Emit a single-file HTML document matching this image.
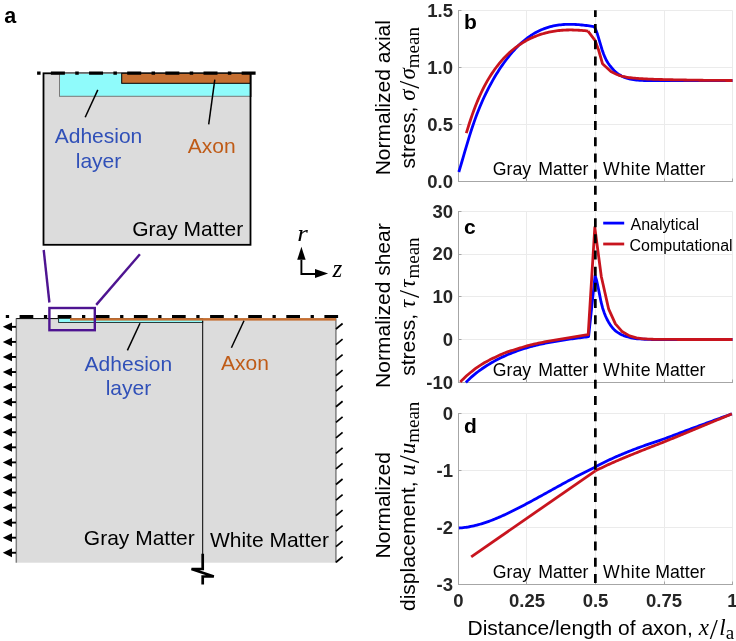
<!DOCTYPE html>
<html><head><meta charset="utf-8"><style>
html,body{margin:0;padding:0;background:#fff;}
svg{display:block;font-family:"Liberation Sans",sans-serif;will-change:transform}
</style></head><body>
<svg width="736" height="641" viewBox="0 0 736 641" style="font-family:&quot;Liberation Sans&quot;,sans-serif">
<text x="4.3" y="22.6" style="font-weight:bold;font-size:21.5px">a</text>
<rect x="43.5" y="73.3" width="207" height="171.5" fill="#dcdcdc" stroke="#000" stroke-width="1.8"/>
<rect x="59.5" y="73.3" width="191" height="23" fill="#8ffbfb" stroke="#7a7a7a" stroke-width="1"/>
<rect x="121.7" y="73.3" width="128.8" height="10" fill="#c56e30" stroke="#000" stroke-width="1"/>
<line x1="250.5" y1="73.3" x2="250.5" y2="97" stroke="#000" stroke-width="1.8"/>
<line x1="37.1" y1="73.1" x2="255.6" y2="73.1" stroke="#000" stroke-width="3.4" stroke-dasharray="3.5 10.3 14 10.35"/>
<line x1="97.8" y1="89.9" x2="85.2" y2="117.2" stroke="#000" stroke-width="1.5"/>
<line x1="214.8" y1="79.6" x2="208.7" y2="124.3" stroke="#000" stroke-width="1.5"/>
<text x="98.5" y="143.2" text-anchor="middle" fill="#3050b8" style="font-size:21px">Adhesion</text>
<text x="98.5" y="167.6" text-anchor="middle" fill="#3050b8" style="font-size:21px">layer</text>
<text x="211.7" y="153" text-anchor="middle" fill="#bf5b17" style="font-size:21px">Axon</text>
<text x="187.7" y="235.6" text-anchor="middle" style="font-size:21px">Gray Matter</text>
<line x1="43.7" y1="250" x2="49.4" y2="302.5" stroke="#4e1491" stroke-width="2.4"/>
<line x1="139.9" y1="254.3" x2="96.2" y2="304.9" stroke="#4e1491" stroke-width="2.4"/>
<rect x="16.3" y="318.3" width="319.6" height="244.4" fill="#dcdcdc"/>
<line x1="16.3" y1="318.3" x2="16.3" y2="562.7" stroke="#7f7f7f" stroke-width="1.5"/>
<line x1="335.9" y1="318.3" x2="335.9" y2="562.7" stroke="#7f7f7f" stroke-width="1.5"/>
<line x1="16.3" y1="318.6" x2="59" y2="318.6" stroke="#000" stroke-width="1"/>
<rect x="58.6" y="318.5" width="144.1" height="4" fill="#8ffbfb" stroke="#1a2a2a" stroke-width="0.9"/>
<rect x="70" y="318.1" width="266" height="2.5" fill="#c56e30"/>
<line x1="202.7" y1="321" x2="202.7" y2="554" stroke="#000" stroke-width="1"/>
<path d="M202.7 553.7 V569 H191.5 L213.8 576.5 H202.7 V584.5" fill="none" stroke="#000" stroke-width="2.7" stroke-linejoin="miter"/>
<line x1="5.8" y1="316.6" x2="338.2" y2="316.6" stroke="#000" stroke-width="3" stroke-dasharray="3.3 10.5 13.7 10.6" />
<line x1="140" y1="323.3" x2="127.4" y2="350.4" stroke="#000" stroke-width="1.5"/>
<line x1="244" y1="320.8" x2="231.4" y2="347.7" stroke="#000" stroke-width="1.5"/>
<text x="128.4" y="370.8" text-anchor="middle" fill="#3050b8" style="font-size:21px">Adhesion</text>
<text x="128.4" y="394.7" text-anchor="middle" fill="#3050b8" style="font-size:21px">layer</text>
<text x="245" y="370.2" text-anchor="middle" fill="#bf5b17" style="font-size:21px">Axon</text>
<text x="139.3" y="545" text-anchor="middle" style="font-size:21px">Gray Matter</text>
<text x="269.4" y="547.2" text-anchor="middle" style="font-size:21px">White Matter</text>
<rect x="49.4" y="308" width="45.4" height="22.2" fill="none" stroke="#4e1491" stroke-width="2.4"/>
<line x1="10" y1="326.85" x2="16" y2="326.85" stroke="#000" stroke-width="1.9"/>
<path d="M2.8 326.85 L12 322.45 L12 331.25 Z" fill="#000"/>
<line x1="10" y1="341.91" x2="16" y2="341.91" stroke="#000" stroke-width="1.9"/>
<path d="M2.8 341.91 L12 337.51 L12 346.31 Z" fill="#000"/>
<line x1="10" y1="356.97" x2="16" y2="356.97" stroke="#000" stroke-width="1.9"/>
<path d="M2.8 356.97 L12 352.57 L12 361.37 Z" fill="#000"/>
<line x1="10" y1="372.03" x2="16" y2="372.03" stroke="#000" stroke-width="1.9"/>
<path d="M2.8 372.03 L12 367.63 L12 376.43 Z" fill="#000"/>
<line x1="10" y1="387.09" x2="16" y2="387.09" stroke="#000" stroke-width="1.9"/>
<path d="M2.8 387.09 L12 382.69 L12 391.49 Z" fill="#000"/>
<line x1="10" y1="402.15" x2="16" y2="402.15" stroke="#000" stroke-width="1.9"/>
<path d="M2.8 402.15 L12 397.75 L12 406.55 Z" fill="#000"/>
<line x1="10" y1="417.21" x2="16" y2="417.21" stroke="#000" stroke-width="1.9"/>
<path d="M2.8 417.21 L12 412.81 L12 421.61 Z" fill="#000"/>
<line x1="10" y1="432.27" x2="16" y2="432.27" stroke="#000" stroke-width="1.9"/>
<path d="M2.8 432.27 L12 427.87 L12 436.67 Z" fill="#000"/>
<line x1="10" y1="447.33" x2="16" y2="447.33" stroke="#000" stroke-width="1.9"/>
<path d="M2.8 447.33 L12 442.93 L12 451.73 Z" fill="#000"/>
<line x1="10" y1="462.39" x2="16" y2="462.39" stroke="#000" stroke-width="1.9"/>
<path d="M2.8 462.39 L12 457.99 L12 466.79 Z" fill="#000"/>
<line x1="10" y1="477.45" x2="16" y2="477.45" stroke="#000" stroke-width="1.9"/>
<path d="M2.8 477.45 L12 473.05 L12 481.85 Z" fill="#000"/>
<line x1="10" y1="492.51" x2="16" y2="492.51" stroke="#000" stroke-width="1.9"/>
<path d="M2.8 492.51 L12 488.11 L12 496.91 Z" fill="#000"/>
<line x1="10" y1="507.57" x2="16" y2="507.57" stroke="#000" stroke-width="1.9"/>
<path d="M2.8 507.57 L12 503.17 L12 511.97 Z" fill="#000"/>
<line x1="10" y1="522.63" x2="16" y2="522.63" stroke="#000" stroke-width="1.9"/>
<path d="M2.8 522.63 L12 518.23 L12 527.03 Z" fill="#000"/>
<line x1="10" y1="537.69" x2="16" y2="537.69" stroke="#000" stroke-width="1.9"/>
<path d="M2.8 537.69 L12 533.29 L12 542.09 Z" fill="#000"/>
<line x1="10" y1="552.75" x2="16" y2="552.75" stroke="#000" stroke-width="1.9"/>
<path d="M2.8 552.75 L12 548.35 L12 557.15 Z" fill="#000"/>
<line x1="336" y1="329" x2="342.6" y2="323.5" stroke="#000" stroke-width="1.7"/>
<line x1="336" y1="344.55" x2="342.6" y2="339.05" stroke="#000" stroke-width="1.7"/>
<line x1="336" y1="360.1" x2="342.6" y2="354.6" stroke="#000" stroke-width="1.7"/>
<line x1="336" y1="375.65" x2="342.6" y2="370.15" stroke="#000" stroke-width="1.7"/>
<line x1="336" y1="391.2" x2="342.6" y2="385.7" stroke="#000" stroke-width="1.7"/>
<line x1="336" y1="406.75" x2="342.6" y2="401.25" stroke="#000" stroke-width="1.7"/>
<line x1="336" y1="422.3" x2="342.6" y2="416.8" stroke="#000" stroke-width="1.7"/>
<line x1="336" y1="437.85" x2="342.6" y2="432.35" stroke="#000" stroke-width="1.7"/>
<line x1="336" y1="453.4" x2="342.6" y2="447.9" stroke="#000" stroke-width="1.7"/>
<line x1="336" y1="468.95" x2="342.6" y2="463.45" stroke="#000" stroke-width="1.7"/>
<line x1="336" y1="484.5" x2="342.6" y2="479" stroke="#000" stroke-width="1.7"/>
<line x1="336" y1="500.05" x2="342.6" y2="494.55" stroke="#000" stroke-width="1.7"/>
<line x1="336" y1="515.6" x2="342.6" y2="510.1" stroke="#000" stroke-width="1.7"/>
<line x1="336" y1="531.15" x2="342.6" y2="525.65" stroke="#000" stroke-width="1.7"/>
<line x1="336" y1="546.7" x2="342.6" y2="541.2" stroke="#000" stroke-width="1.7"/>
<line x1="336" y1="562.25" x2="342.6" y2="556.75" stroke="#000" stroke-width="1.7"/>
<path d="M301.4 259.8 V274 H315" fill="none" stroke="#000" stroke-width="1.9"/>
<path d="M301.4 246.7 L297.2 259.8 L305.6 259.8 Z" fill="#000"/>
<path d="M328.1 273.5 L315 269 L315 278 Z" fill="#000"/>
<text transform="translate(297.2 241) scale(1.18 1)" style="font-family:&quot;Liberation Serif&quot;,serif;font-style:italic;font-size:23px">r</text>
<text x="332.5" y="276.7" style="font-family:&quot;Liberation Serif&quot;,serif;font-style:italic;font-size:25px">z</text>
<line x1="458.5" y1="10.5" x2="458.5" y2="181.5" stroke="#ebebeb" stroke-width="1"/>
<line x1="526.5" y1="10.5" x2="526.5" y2="181.5" stroke="#ebebeb" stroke-width="1"/>
<line x1="595.5" y1="10.5" x2="595.5" y2="181.5" stroke="#ebebeb" stroke-width="1"/>
<line x1="664.5" y1="10.5" x2="664.5" y2="181.5" stroke="#ebebeb" stroke-width="1"/>
<line x1="732.5" y1="10.5" x2="732.5" y2="181.5" stroke="#ebebeb" stroke-width="1"/>
<line x1="458.5" y1="181.5" x2="732.5" y2="181.5" stroke="#ebebeb" stroke-width="1"/>
<line x1="458.5" y1="124.5" x2="732.5" y2="124.5" stroke="#ebebeb" stroke-width="1"/>
<line x1="458.5" y1="67.5" x2="732.5" y2="67.5" stroke="#ebebeb" stroke-width="1"/>
<line x1="458.5" y1="10.5" x2="732.5" y2="10.5" stroke="#ebebeb" stroke-width="1"/>
<line x1="458.5" y1="10" x2="458.5" y2="182" stroke="#a6a6a6" stroke-width="1"/>
<line x1="458.5" y1="181.5" x2="733" y2="181.5" stroke="#a6a6a6" stroke-width="1"/>
<line x1="458.5" y1="181.5" x2="461.5" y2="181.5" stroke="#a6a6a6" stroke-width="1"/>
<line x1="458.5" y1="124.5" x2="461.5" y2="124.5" stroke="#a6a6a6" stroke-width="1"/>
<line x1="458.5" y1="67.5" x2="461.5" y2="67.5" stroke="#a6a6a6" stroke-width="1"/>
<line x1="458.5" y1="10.5" x2="461.5" y2="10.5" stroke="#a6a6a6" stroke-width="1"/>
<line x1="458.5" y1="181.5" x2="458.5" y2="178.5" stroke="#a6a6a6" stroke-width="1"/>
<line x1="526.5" y1="181.5" x2="526.5" y2="178.5" stroke="#a6a6a6" stroke-width="1"/>
<line x1="595.5" y1="181.5" x2="595.5" y2="178.5" stroke="#a6a6a6" stroke-width="1"/>
<line x1="664.5" y1="181.5" x2="664.5" y2="178.5" stroke="#a6a6a6" stroke-width="1"/>
<line x1="732.5" y1="181.5" x2="732.5" y2="178.5" stroke="#a6a6a6" stroke-width="1"/>
<text x="453" y="187.5" text-anchor="end" style="font-weight:bold;font-size:18.5px;fill:#262626">0.0</text>
<text x="453" y="130.6" text-anchor="end" style="font-weight:bold;font-size:18.5px;fill:#262626">0.5</text>
<text x="453" y="73.7" text-anchor="end" style="font-weight:bold;font-size:18.5px;fill:#262626">1.0</text>
<text x="453" y="16.8" text-anchor="end" style="font-weight:bold;font-size:18.5px;fill:#262626">1.5</text>
<text x="464" y="28.5" style="font-weight:bold;font-size:21px">b</text>
<text x="492.8" y="174.6" style="font-size:17.7px">Gray</text>
<text x="538.3" y="174.6" style="font-size:17.7px">Matter</text>
<text x="603.1" y="174.6" style="font-size:17.7px;letter-spacing:0.6px">White</text>
<text x="655.3" y="174.6" style="font-size:17.7px">Matter</text>
<line x1="458.5" y1="211.5" x2="458.5" y2="382.5" stroke="#ebebeb" stroke-width="1"/>
<line x1="526.5" y1="211.5" x2="526.5" y2="382.5" stroke="#ebebeb" stroke-width="1"/>
<line x1="595.5" y1="211.5" x2="595.5" y2="382.5" stroke="#ebebeb" stroke-width="1"/>
<line x1="664.5" y1="211.5" x2="664.5" y2="382.5" stroke="#ebebeb" stroke-width="1"/>
<line x1="732.5" y1="211.5" x2="732.5" y2="382.5" stroke="#ebebeb" stroke-width="1"/>
<line x1="458.5" y1="382.5" x2="732.5" y2="382.5" stroke="#ebebeb" stroke-width="1"/>
<line x1="458.5" y1="339.5" x2="732.5" y2="339.5" stroke="#ebebeb" stroke-width="1"/>
<line x1="458.5" y1="296.5" x2="732.5" y2="296.5" stroke="#ebebeb" stroke-width="1"/>
<line x1="458.5" y1="254.5" x2="732.5" y2="254.5" stroke="#ebebeb" stroke-width="1"/>
<line x1="458.5" y1="211.5" x2="732.5" y2="211.5" stroke="#ebebeb" stroke-width="1"/>
<line x1="458.5" y1="211" x2="458.5" y2="383" stroke="#a6a6a6" stroke-width="1"/>
<line x1="458.5" y1="382.5" x2="733" y2="382.5" stroke="#a6a6a6" stroke-width="1"/>
<line x1="458.5" y1="382.5" x2="461.5" y2="382.5" stroke="#a6a6a6" stroke-width="1"/>
<line x1="458.5" y1="339.5" x2="461.5" y2="339.5" stroke="#a6a6a6" stroke-width="1"/>
<line x1="458.5" y1="296.5" x2="461.5" y2="296.5" stroke="#a6a6a6" stroke-width="1"/>
<line x1="458.5" y1="254.5" x2="461.5" y2="254.5" stroke="#a6a6a6" stroke-width="1"/>
<line x1="458.5" y1="211.5" x2="461.5" y2="211.5" stroke="#a6a6a6" stroke-width="1"/>
<line x1="458.5" y1="382.5" x2="458.5" y2="379.5" stroke="#a6a6a6" stroke-width="1"/>
<line x1="526.5" y1="382.5" x2="526.5" y2="379.5" stroke="#a6a6a6" stroke-width="1"/>
<line x1="595.5" y1="382.5" x2="595.5" y2="379.5" stroke="#a6a6a6" stroke-width="1"/>
<line x1="664.5" y1="382.5" x2="664.5" y2="379.5" stroke="#a6a6a6" stroke-width="1"/>
<line x1="732.5" y1="382.5" x2="732.5" y2="379.5" stroke="#a6a6a6" stroke-width="1"/>
<text x="453" y="388.5" text-anchor="end" style="font-weight:bold;font-size:18.5px;fill:#262626">-10</text>
<text x="453" y="345.82" text-anchor="end" style="font-weight:bold;font-size:18.5px;fill:#262626">0</text>
<text x="453" y="303.15" text-anchor="end" style="font-weight:bold;font-size:18.5px;fill:#262626">10</text>
<text x="453" y="260.47" text-anchor="end" style="font-weight:bold;font-size:18.5px;fill:#262626">20</text>
<text x="453" y="217.8" text-anchor="end" style="font-weight:bold;font-size:18.5px;fill:#262626">30</text>
<text x="464" y="234.3" style="font-weight:bold;font-size:21px">c</text>
<text x="492.8" y="375.6" style="font-size:17.7px">Gray</text>
<text x="538.3" y="375.6" style="font-size:17.7px">Matter</text>
<text x="603.1" y="375.6" style="font-size:17.7px;letter-spacing:0.6px">White</text>
<text x="655.3" y="375.6" style="font-size:17.7px">Matter</text>
<line x1="458.5" y1="413.5" x2="458.5" y2="584.5" stroke="#ebebeb" stroke-width="1"/>
<line x1="526.5" y1="413.5" x2="526.5" y2="584.5" stroke="#ebebeb" stroke-width="1"/>
<line x1="595.5" y1="413.5" x2="595.5" y2="584.5" stroke="#ebebeb" stroke-width="1"/>
<line x1="664.5" y1="413.5" x2="664.5" y2="584.5" stroke="#ebebeb" stroke-width="1"/>
<line x1="732.5" y1="413.5" x2="732.5" y2="584.5" stroke="#ebebeb" stroke-width="1"/>
<line x1="458.5" y1="584.5" x2="732.5" y2="584.5" stroke="#ebebeb" stroke-width="1"/>
<line x1="458.5" y1="527.5" x2="732.5" y2="527.5" stroke="#ebebeb" stroke-width="1"/>
<line x1="458.5" y1="470.5" x2="732.5" y2="470.5" stroke="#ebebeb" stroke-width="1"/>
<line x1="458.5" y1="413.5" x2="732.5" y2="413.5" stroke="#ebebeb" stroke-width="1"/>
<line x1="458.5" y1="413" x2="458.5" y2="585" stroke="#a6a6a6" stroke-width="1"/>
<line x1="458.5" y1="584.5" x2="733" y2="584.5" stroke="#a6a6a6" stroke-width="1"/>
<line x1="458.5" y1="584.5" x2="461.5" y2="584.5" stroke="#a6a6a6" stroke-width="1"/>
<line x1="458.5" y1="527.5" x2="461.5" y2="527.5" stroke="#a6a6a6" stroke-width="1"/>
<line x1="458.5" y1="470.5" x2="461.5" y2="470.5" stroke="#a6a6a6" stroke-width="1"/>
<line x1="458.5" y1="413.5" x2="461.5" y2="413.5" stroke="#a6a6a6" stroke-width="1"/>
<line x1="458.5" y1="584.5" x2="458.5" y2="581.5" stroke="#a6a6a6" stroke-width="1"/>
<line x1="526.5" y1="584.5" x2="526.5" y2="581.5" stroke="#a6a6a6" stroke-width="1"/>
<line x1="595.5" y1="584.5" x2="595.5" y2="581.5" stroke="#a6a6a6" stroke-width="1"/>
<line x1="664.5" y1="584.5" x2="664.5" y2="581.5" stroke="#a6a6a6" stroke-width="1"/>
<line x1="732.5" y1="584.5" x2="732.5" y2="581.5" stroke="#a6a6a6" stroke-width="1"/>
<text x="453" y="591.1" text-anchor="end" style="font-weight:bold;font-size:18.5px;fill:#262626">-3</text>
<text x="453" y="534.1" text-anchor="end" style="font-weight:bold;font-size:18.5px;fill:#262626">-2</text>
<text x="453" y="477.1" text-anchor="end" style="font-weight:bold;font-size:18.5px;fill:#262626">-1</text>
<text x="453" y="420.1" text-anchor="end" style="font-weight:bold;font-size:18.5px;fill:#262626">0</text>
<text x="464" y="433.3" style="font-weight:bold;font-size:21px">d</text>
<text x="492.8" y="578.2" style="font-size:17.7px">Gray</text>
<text x="538.3" y="578.2" style="font-size:17.7px">Matter</text>
<text x="603.1" y="578.2" style="font-size:17.7px;letter-spacing:0.6px">White</text>
<text x="655.3" y="578.2" style="font-size:17.7px">Matter</text>
<text x="458.5" y="607.1" text-anchor="middle" style="font-weight:bold;font-size:18.5px;fill:#262626">0</text>
<text x="527" y="607.1" text-anchor="middle" style="font-weight:bold;font-size:18.5px;fill:#262626">0.25</text>
<text x="595.5" y="607.1" text-anchor="middle" style="font-weight:bold;font-size:18.5px;fill:#262626">0.5</text>
<text x="664" y="607.1" text-anchor="middle" style="font-weight:bold;font-size:18.5px;fill:#262626">0.75</text>
<text x="732.5" y="607.1" text-anchor="middle" style="font-weight:bold;font-size:18.5px;fill:#262626">1</text>
<path d="M458.8 172 L460.3 167.12 L461.8 161.99 L463.3 156.84 L464.8 151.72 L466.3 146.63 L467.8 141.61 L469.3 136.7 L470.8 131.92 L472.3 127.3 L473.8 122.87 L475.3 118.63 L476.8 114.58 L478.3 110.71 L479.8 107 L481.3 103.45 L482.8 100.04 L484.3 96.77 L485.8 93.61 L487.3 90.57 L488.8 87.63 L490.3 84.79 L491.8 82.05 L493.3 79.39 L494.8 76.82 L496.3 74.34 L497.8 71.93 L499.3 69.6 L500.8 67.34 L502.3 65.15 L503.8 63.03 L505.3 60.97 L506.8 58.98 L508.3 57.05 L509.8 55.19 L511.3 53.39 L512.8 51.65 L514.3 49.98 L515.8 48.37 L517.3 46.82 L518.8 45.33 L520.3 43.9 L521.8 42.54 L523.3 41.23 L524.8 39.98 L526.3 38.79 L527.8 37.66 L529.3 36.58 L530.8 35.55 L532.3 34.58 L533.8 33.67 L535.3 32.8 L536.8 31.98 L538.3 31.22 L539.8 30.5 L541.3 29.82 L542.8 29.2 L544.3 28.61 L545.8 28.07 L547.3 27.57 L548.8 27.11 L550.3 26.7 L551.8 26.32 L553.3 25.97 L554.8 25.67 L556.3 25.4 L557.8 25.16 L559.3 24.95 L560.8 24.78 L562.3 24.63 L563.8 24.52 L565.3 24.43 L566.8 24.37 L568.3 24.34 L569.8 24.33 L571.3 24.34 L572.8 24.38 L574.3 24.43 L575.8 24.51 L577.3 24.61 L578.8 24.72 L580.3 24.85 L581.8 24.99 L583.3 25.15 L584.8 25.32 L586.3 25.5 L587.8 25.69 L589.3 25.9 L590.8 26.11 L592.3 26.32 L593.8 26.55 L594.5 27" fill="none" stroke="#0000ff" stroke-width="2.8" stroke-linejoin="round"/>
<path d="M594.5 27 L596 30.28 L597.5 34.28 L599 39.28 L600.5 44.44 L602 49.51 L603.5 53.82 L605 57.47 L606.5 60.54 L608 63.02 L609.5 65.14 L611 67 L612.5 68.74 L614 70.38 L615.5 71.84 L617 73.06 L618.5 74.08 L620 75.03 L621.5 75.91 L623 76.69 L624.5 77.38 L626 77.94 L627.5 78.38 L629 78.76 L630.5 79.1 L632 79.42 L633.5 79.69 L635 79.91 L636.5 80.09 L638 80.2 L639.5 80.28 L641 80.35 L642.5 80.42 L644 80.48 L645.5 80.54 L647 80.59 L648.5 80.63 L650 80.66 L651.5 80.68 L653 80.7 L654.5 80.7 L656 80.7 L657.5 80.7 L659 80.7 L660.5 80.7 L662 80.7 L663.5 80.7 L665 80.7 L666.5 80.7 L668 80.7 L669.5 80.7 L671 80.7 L672.5 80.7 L674 80.7 L675.5 80.7 L677 80.7 L678.5 80.7 L680 80.7 L681.5 80.7 L683 80.7 L684.5 80.7 L686 80.7 L687.5 80.7 L689 80.7 L690.5 80.69 L692 80.69 L693.5 80.69 L695 80.69 L696.5 80.69 L698 80.69 L699.5 80.68 L701 80.68 L702.5 80.68 L704 80.68 L705.5 80.67 L707 80.67 L708.5 80.67 L710 80.66 L711.5 80.66 L713 80.66 L714.5 80.65 L716 80.65 L717.5 80.64 L719 80.64 L720.5 80.64 L722 80.63 L723.5 80.63 L725 80.62 L726.5 80.62 L728 80.61 L729.5 80.61 L731 80.6 L732.5 80.6" fill="none" stroke="#0000ff" stroke-width="2.8" stroke-linejoin="round"/>
<path d="M466.3 133.1 L467.8 128.3 L469.3 123.53 L470.8 118.97 L472.3 114.62 L473.8 110.47 L475.3 106.51 L476.8 102.74 L478.3 99.15 L479.8 95.73 L481.3 92.48 L482.8 89.38 L484.3 86.43 L485.8 83.62 L487.3 80.94 L488.8 78.39 L490.3 75.96 L491.8 73.63 L493.3 71.41 L494.8 69.28 L496.3 67.24 L497.8 65.28 L499.3 63.41 L500.8 61.61 L502.3 59.88 L503.8 58.23 L505.3 56.65 L506.8 55.14 L508.3 53.69 L509.8 52.31 L511.3 50.99 L512.8 49.72 L514.3 48.52 L515.8 47.37 L517.3 46.27 L518.8 45.22 L520.3 44.21 L521.8 43.25 L523.3 42.34 L524.8 41.46 L526.3 40.62 L527.8 39.82 L529.3 39.06 L530.8 38.33 L532.3 37.64 L533.8 36.98 L535.3 36.36 L536.8 35.77 L538.3 35.21 L539.8 34.69 L541.3 34.2 L542.8 33.73 L544.3 33.3 L545.8 32.9 L547.3 32.53 L548.8 32.18 L550.3 31.87 L551.8 31.58 L553.3 31.31 L554.8 31.07 L556.3 30.86 L557.8 30.67 L559.3 30.51 L560.8 30.37 L562.3 30.25 L563.8 30.15 L565.3 30.07 L566.8 30.02 L568.3 29.98 L569.8 29.97 L571.3 29.97 L572.8 29.99 L574.3 30.03 L575.8 30.08 L577.3 30.15 L578.8 30.24 L580.3 30.34 L581.8 30.45 L583.3 30.58 L584.8 30.72 L586.3 30.87 L587.8 31.04 L588 31.1" fill="none" stroke="#c8141e" stroke-width="2.8" stroke-linejoin="round"/>
<path d="M588 31.1 L595 40.3 L598.6 50 L602.5 63.7 L610.9 71.5 L612.4 72.31 L613.9 73.08 L615.4 73.8 L616.9 74.47 L618.4 75.07 L619.9 75.59 L621.4 76.02 L622.9 76.39 L624.4 76.72 L625.9 77.02 L627.4 77.29 L628.9 77.54 L630.4 77.75 L631.9 77.93 L633.4 78.08 L634.9 78.22 L636.4 78.35 L637.9 78.47 L639.4 78.58 L640.9 78.68 L642.4 78.77 L643.9 78.86 L645.4 78.94 L646.9 79.01 L648.4 79.08 L649.9 79.14 L651.4 79.2 L652.9 79.25 L654.4 79.3 L655.9 79.35 L657.4 79.4 L658.9 79.44 L660.4 79.48 L661.9 79.52 L663.4 79.56 L664.9 79.59 L666.4 79.63 L667.9 79.66 L669.4 79.7 L670.9 79.73 L672.4 79.76 L673.9 79.79 L675.4 79.82 L676.9 79.84 L678.4 79.87 L679.9 79.9 L681.4 79.93 L682.9 79.95 L684.4 79.98 L685.9 80.01 L687.4 80.04 L688.9 80.06 L690.4 80.09 L691.9 80.11 L693.4 80.14 L694.9 80.16 L696.4 80.19 L697.9 80.21 L699.4 80.23 L700.9 80.25 L702.4 80.27 L703.9 80.29 L705.4 80.3 L706.9 80.32 L708.4 80.33 L709.9 80.35 L711.4 80.36 L712.9 80.38 L714.4 80.39 L715.9 80.4 L717.4 80.41 L718.9 80.43 L720.4 80.44 L721.9 80.45 L723.4 80.46 L724.9 80.47 L726.4 80.48 L727.9 80.48 L729.4 80.49 L730.9 80.5 L732.4 80.5 L732.5 80.5" fill="none" stroke="#c8141e" stroke-width="2.8" stroke-linejoin="round"/>
<path d="M465.9 382.4 L467.4 380.88 L468.9 379.41 L470.4 377.98 L471.9 376.62 L473.4 375.33 L474.9 374.1 L476.4 372.91 L477.9 371.75 L479.4 370.63 L480.9 369.55 L482.4 368.49 L483.9 367.47 L485.4 366.49 L486.9 365.53 L488.4 364.6 L489.9 363.7 L491.4 362.83 L492.9 361.98 L494.4 361.15 L495.9 360.34 L497.4 359.56 L498.9 358.8 L500.4 358.05 L501.9 357.32 L503.4 356.61 L504.9 355.91 L506.4 355.24 L507.9 354.58 L509.4 353.94 L510.9 353.33 L512.4 352.75 L513.9 352.17 L515.4 351.61 L516.9 351.06 L518.4 350.53 L519.9 350.01 L521.4 349.5 L522.9 349 L524.4 348.52 L525.9 348.06 L527.4 347.61 L528.9 347.18 L530.4 346.76 L531.9 346.36 L533.4 345.97 L534.9 345.59 L536.4 345.21 L537.9 344.85 L539.4 344.5 L540.9 344.16 L542.4 343.83 L543.9 343.51 L545.4 343.2 L546.9 342.9 L548.4 342.6 L549.9 342.32 L551.4 342.04 L552.9 341.77 L554.4 341.51 L555.9 341.25 L557.4 341 L558.9 340.76 L560.4 340.52 L561.9 340.29 L563.4 340.06 L564.9 339.83 L566.4 339.61 L567.9 339.39 L569.4 339.17 L570.9 338.96 L572.4 338.75 L573.9 338.54 L575.4 338.34 L576.9 338.14 L578.4 337.94 L579.9 337.74 L581.4 337.55 L582.9 337.37 L584.4 337.19 L585.9 337.01 L587.4 336.84 L588.6 336.7 L595.1 275.5 L596.6 280.38 L598.1 287.28 L599.6 294.64 L601.1 302.19 L602.6 307.95 L604.1 312.42 L605.6 316.24 L607.1 319.47 L608.6 322.18 L610.1 324.58 L611.6 326.73 L613.1 328.58 L614.6 330.11 L616.1 331.31 L617.6 332.38 L619.1 333.33 L620.6 334.18 L622.1 334.93 L623.6 335.57 L625.1 336.1 L626.6 336.57 L628.1 337 L629.6 337.41 L631.1 337.77 L632.6 338.1 L634.1 338.38 L635.6 338.6 L637.1 338.76 L638.6 338.87 L640.1 338.97 L641.6 339.06 L643.1 339.15 L644.6 339.23 L646.1 339.29 L647.6 339.36 L649.1 339.41 L650.6 339.45 L652.1 339.48 L653.6 339.49 L655.1 339.5 L656.6 339.5 L658.1 339.5 L659.6 339.5 L661.1 339.5 L662.6 339.5 L664.1 339.5 L665.6 339.5 L667.1 339.5 L668.6 339.5 L670.1 339.5 L671.6 339.5 L673.1 339.5 L674.6 339.5 L676.1 339.5 L677.6 339.5 L679.1 339.5 L680.6 339.5 L682.1 339.5 L683.6 339.5 L685.1 339.5 L686.6 339.5 L688.1 339.5 L689.6 339.5 L691.1 339.5 L692.6 339.5 L694.1 339.5 L695.6 339.5 L697.1 339.5 L698.6 339.5 L700.1 339.5 L701.6 339.5 L703.1 339.5 L704.6 339.5 L706.1 339.5 L707.6 339.5 L709.1 339.5 L710.6 339.5 L712.1 339.5 L713.6 339.5 L715.1 339.5 L716.6 339.5 L718.1 339.5 L719.6 339.5 L721.1 339.5 L722.6 339.5 L724.1 339.5 L725.6 339.5 L727.1 339.5 L728.6 339.5 L730.1 339.5 L731.6 339.5 L732.5 339.5" fill="none" stroke="#0000ff" stroke-width="2.8" stroke-linejoin="round"/>
<path d="M460.3 381.9 L461.8 380.38 L463.3 378.9 L464.8 377.46 L466.3 376.07 L467.8 374.74 L469.3 373.47 L470.8 372.24 L472.3 371.04 L473.8 369.87 L475.3 368.74 L476.8 367.64 L478.3 366.59 L479.8 365.58 L481.3 364.61 L482.8 363.69 L484.3 362.81 L485.8 361.97 L487.3 361.15 L488.8 360.37 L490.3 359.6 L491.8 358.86 L493.3 358.12 L494.8 357.4 L496.3 356.69 L497.8 355.98 L499.3 355.29 L500.8 354.61 L502.3 353.96 L503.8 353.32 L505.3 352.72 L506.8 352.15 L508.3 351.62 L509.8 351.14 L511.3 350.68 L512.8 350.24 L514.3 349.8 L515.8 349.36 L517.3 348.9 L518.8 348.43 L520.3 347.95 L521.8 347.47 L523.3 347 L524.8 346.53 L526.3 346.08 L527.8 345.66 L529.3 345.25 L530.8 344.88 L532.3 344.52 L533.8 344.17 L535.3 343.83 L536.8 343.51 L538.3 343.19 L539.8 342.88 L541.3 342.58 L542.8 342.28 L544.3 341.99 L545.8 341.7 L547.3 341.41 L548.8 341.13 L550.3 340.85 L551.8 340.58 L553.3 340.31 L554.8 340.05 L556.3 339.79 L557.8 339.54 L559.3 339.28 L560.8 339.03 L562.3 338.78 L563.8 338.53 L565.3 338.28 L566.8 338.03 L568.3 337.78 L569.8 337.54 L571.3 337.29 L572.8 337.04 L574.3 336.8 L575.8 336.56 L577.3 336.31 L578.8 336.07 L580.3 335.84 L581.8 335.6 L583.3 335.36 L584.8 335.13 L586.3 334.89 L587.8 334.66 L588.2 334.6 L594.8 227.5 L601.3 276.5 L608.7 309.2 L615.4 323.8 L622.4 331.8 L629.6 335.9 L636.5 337.9 L643.4 338.8 L644.9 338.88 L646.4 338.96 L647.9 339.04 L649.4 339.12 L650.9 339.19 L652.4 339.24 L653.9 339.28 L655.4 339.3 L656.9 339.32 L658.4 339.34 L659.9 339.35 L661.4 339.37 L662.9 339.38 L664.4 339.39 L665.9 339.41 L667.4 339.42 L668.9 339.43 L670.4 339.44 L671.9 339.45 L673.4 339.46 L674.9 339.46 L676.4 339.47 L677.9 339.48 L679.4 339.48 L680.9 339.49 L682.4 339.49 L683.9 339.49 L685.4 339.5 L686.9 339.5 L688.4 339.5 L689.9 339.5 L691.4 339.5 L692.9 339.5 L694.4 339.5 L695.9 339.5 L697.4 339.5 L698.9 339.5 L700.4 339.5 L701.9 339.5 L703.4 339.5 L704.9 339.5 L706.4 339.5 L707.9 339.5 L709.4 339.5 L710.9 339.5 L712.4 339.5 L713.9 339.5 L715.4 339.5 L716.9 339.5 L718.4 339.5 L719.9 339.5 L721.4 339.5 L722.9 339.5 L724.4 339.5 L725.9 339.5 L727.4 339.5 L728.9 339.5 L730.4 339.5 L731.9 339.5 L732.5 339.5" fill="none" stroke="#c8141e" stroke-width="2.8" stroke-linejoin="round"/>
<path d="M458.9 528 L460.4 527.91 L461.9 527.78 L463.4 527.63 L464.9 527.45 L466.4 527.25 L467.9 527.01 L469.4 526.75 L470.9 526.47 L472.4 526.16 L473.9 525.83 L475.4 525.47 L476.9 525.09 L478.4 524.69 L479.9 524.27 L481.4 523.83 L482.9 523.36 L484.4 522.88 L485.9 522.38 L487.4 521.86 L488.9 521.33 L490.4 520.77 L491.9 520.21 L493.4 519.62 L494.9 519.02 L496.4 518.41 L497.9 517.78 L499.4 517.14 L500.9 516.48 L502.4 515.81 L503.9 515.14 L505.4 514.45 L506.9 513.74 L508.4 513.03 L509.9 512.31 L511.4 511.58 L512.9 510.84 L514.4 510.09 L515.9 509.34 L517.4 508.57 L518.9 507.8 L520.4 507.03 L521.9 506.24 L523.4 505.45 L524.9 504.66 L526.4 503.86 L527.9 503.06 L529.4 502.25 L530.9 501.44 L532.4 500.62 L533.9 499.8 L535.4 498.98 L536.9 498.16 L538.4 497.33 L539.9 496.51 L541.4 495.68 L542.9 494.85 L544.4 494.02 L545.9 493.18 L547.4 492.35 L548.9 491.52 L550.4 490.69 L551.9 489.86 L553.4 489.03 L554.9 488.2 L556.4 487.37 L557.9 486.55 L559.4 485.72 L560.9 484.9 L562.4 484.08 L563.9 483.26 L565.4 482.45 L566.9 481.64 L568.4 480.83 L569.9 480.02 L571.4 479.22 L572.9 478.42 L574.4 477.62 L575.9 476.83 L577.4 476.04 L578.9 475.26 L580.4 474.47 L581.9 473.7 L583.4 472.92 L584.9 472.16 L586.4 471.39 L587.9 470.63 L589.4 469.88 L590.9 469.13 L592.4 468.38 L593.9 467.64 L595.4 466.9" fill="none" stroke="#0000ff" stroke-width="2.8" stroke-linejoin="round"/>
<path d="M595.4 466.9 L596.9 466.1 L598.4 465.31 L599.9 464.52 L601.4 463.75 L602.9 462.99 L604.4 462.25 L605.9 461.51 L607.4 460.78 L608.9 460.07 L610.4 459.36 L611.9 458.67 L613.4 457.99 L614.9 457.31 L616.4 456.65 L617.9 456 L619.4 455.35 L620.9 454.72 L622.4 454.09 L623.9 453.47 L625.4 452.86 L626.9 452.25 L628.4 451.65 L629.9 451.06 L631.4 450.47 L632.9 449.89 L634.4 449.31 L635.9 448.74 L637.4 448.17 L638.9 447.61 L640.4 447.05 L641.9 446.5 L643.4 445.97 L644.9 445.44 L646.4 444.91 L647.9 444.4 L649.4 443.88 L650.9 443.37 L652.4 442.87 L653.9 442.36 L655.4 441.85 L656.9 441.34 L658.4 440.83 L659.9 440.32 L661.4 439.8 L662.9 439.27 L664.4 438.74 L665.9 438.19 L667.4 437.65 L668.9 437.1 L670.4 436.55 L671.9 435.99 L673.4 435.43 L674.9 434.87 L676.4 434.3 L677.9 433.74 L679.4 433.17 L680.9 432.61 L682.4 432.04 L683.9 431.48 L685.4 430.91 L686.9 430.35 L688.4 429.79 L689.9 429.24 L691.4 428.68 L692.9 428.13 L694.4 427.58 L695.9 427.02 L697.4 426.47 L698.9 425.92 L700.4 425.36 L701.9 424.81 L703.4 424.26 L704.9 423.71 L706.4 423.16 L707.9 422.61 L709.4 422.06 L710.9 421.51 L712.4 420.96 L713.9 420.41 L715.4 419.86 L716.9 419.32 L718.4 418.77 L719.9 418.22 L721.4 417.68 L722.9 417.13 L724.4 416.58 L725.9 416.04 L727.4 415.49 L728.9 414.95 L730.4 414.41 L731.8 413.9" fill="none" stroke="#0000ff" stroke-width="2.8" stroke-linejoin="round"/>
<path d="M471.2 556.9 L595.4 470.8" fill="none" stroke="#c8141e" stroke-width="2.8" stroke-linejoin="round"/>
<path d="M595.4 470.8 L596.9 470.07 L598.4 469.34 L599.9 468.61 L601.4 467.89 L602.9 467.18 L604.4 466.47 L605.9 465.77 L607.4 465.08 L608.9 464.4 L610.4 463.72 L611.9 463.05 L613.4 462.39 L614.9 461.74 L616.4 461.09 L617.9 460.44 L619.4 459.8 L620.9 459.16 L622.4 458.53 L623.9 457.9 L625.4 457.27 L626.9 456.65 L628.4 456.03 L629.9 455.41 L631.4 454.8 L632.9 454.18 L634.4 453.57 L635.9 452.96 L637.4 452.35 L638.9 451.75 L640.4 451.14 L641.9 450.54 L643.4 449.94 L644.9 449.35 L646.4 448.76 L647.9 448.17 L649.4 447.59 L650.9 447.01 L652.4 446.43 L653.9 445.85 L655.4 445.27 L656.9 444.69 L658.4 444.11 L659.9 443.52 L661.4 442.93 L662.9 442.34 L664.4 441.74 L665.9 441.14 L667.4 440.53 L668.9 439.92 L670.4 439.31 L671.9 438.69 L673.4 438.08 L674.9 437.46 L676.4 436.84 L677.9 436.22 L679.4 435.59 L680.9 434.97 L682.4 434.35 L683.9 433.73 L685.4 433.1 L686.9 432.48 L688.4 431.86 L689.9 431.24 L691.4 430.62 L692.9 430 L694.4 429.38 L695.9 428.76 L697.4 428.14 L698.9 427.52 L700.4 426.9 L701.9 426.29 L703.4 425.66 L704.9 425.04 L706.4 424.42 L707.9 423.8 L709.4 423.18 L710.9 422.56 L712.4 421.94 L713.9 421.32 L715.4 420.7 L716.9 420.08 L718.4 419.46 L719.9 418.84 L721.4 418.21 L722.9 417.59 L724.4 416.97 L725.9 416.35 L727.4 415.73 L728.9 415.1 L730.4 414.48 L731.8 413.9" fill="none" stroke="#c8141e" stroke-width="2.8" stroke-linejoin="round"/>
<line x1="603.2" y1="223.1" x2="624.2" y2="223.1" stroke="#0000ff" stroke-width="2.8"/>
<line x1="603.2" y1="244" x2="624.2" y2="244" stroke="#c8141e" stroke-width="2.8"/>
<text x="630.5" y="229.8" style="font-size:16px">Analytical</text>
<text x="629.5" y="251.1" style="font-size:16px">Computational</text>
<line x1="595.35" y1="10.3" x2="595.35" y2="584" stroke="#000" stroke-width="2.7" stroke-dasharray="9 7.17" stroke-dashoffset="2.37"/>
<text transform="translate(389.8 97.7) rotate(-90)" text-anchor="middle" style="font-size:21px">Normalized axial</text>
<text transform="translate(414.8 97.75) rotate(-90)" text-anchor="middle" style="font-size:21px">stress, <tspan style="font-family:&quot;Liberation Serif&quot;,serif;font-style:italic;font-size:23px">σ</tspan><tspan dx="0.8" dy="4.5" style="font-family:&quot;Liberation Serif&quot;,serif;font-size:29px">/</tspan><tspan dx="1.0" dy="-4.5" style="font-family:&quot;Liberation Serif&quot;,serif;font-style:italic;font-size:23px">σ</tspan><tspan dx="0" dy="4" style="font-family:&quot;Liberation Serif&quot;,serif;font-size:19px">mean</tspan></text>
<text transform="translate(389.8 305.6) rotate(-90)" text-anchor="middle" style="font-size:21px">Normalized shear</text>
<text transform="translate(414.8 306.6) rotate(-90)" text-anchor="middle" style="font-size:21px">stress, <tspan style="font-family:&quot;Liberation Serif&quot;,serif;font-style:italic;font-size:23px">τ</tspan><tspan dx="1.8" dy="4.5" style="font-family:&quot;Liberation Serif&quot;,serif;font-size:29px">/</tspan><tspan dx="2.2" dy="-4.5" style="font-family:&quot;Liberation Serif&quot;,serif;font-style:italic;font-size:23px">τ</tspan><tspan dx="1" dy="4" style="font-family:&quot;Liberation Serif&quot;,serif;font-size:19px">mean</tspan></text>
<text transform="translate(389.8 505.3) rotate(-90)" text-anchor="middle" style="font-size:21px">Normalized</text>
<text transform="translate(414.8 506.35) rotate(-90)" text-anchor="middle" style="font-size:21px">displacement, <tspan style="font-family:&quot;Liberation Serif&quot;,serif;font-style:italic;font-size:23px">u</tspan><tspan dx="0.8" dy="4.5" style="font-family:&quot;Liberation Serif&quot;,serif;font-size:29px">/</tspan><tspan dx="1.0" dy="-4.5" style="font-family:&quot;Liberation Serif&quot;,serif;font-style:italic;font-size:23px">u</tspan><tspan dx="0" dy="4" style="font-family:&quot;Liberation Serif&quot;,serif;font-size:19px">mean</tspan></text>
<text x="467.5" y="634.6" style="font-size:21px">Distance/length of axon, <tspan style="font-family:&quot;Liberation Serif&quot;,serif;font-style:italic;font-size:23px">x</tspan><tspan dx="0.8" dy="4.5" style="font-family:&quot;Liberation Serif&quot;,serif;font-size:29px">/</tspan><tspan dx="1.5" dy="-4.5" style="font-family:&quot;Liberation Serif&quot;,serif;font-style:italic;font-size:23px">l</tspan><tspan dy="4" style="font-family:&quot;Liberation Serif&quot;,serif;font-size:19px">a</tspan></text>
</svg></body></html>
